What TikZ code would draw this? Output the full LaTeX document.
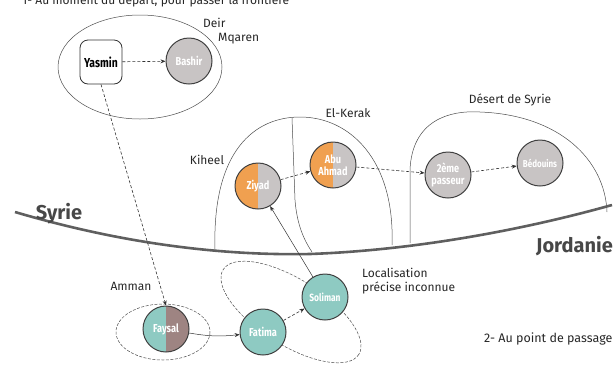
\documentclass[tikz,border=0pt]{standalone}
\usepackage{fontspec}
\setmainfont{Fira Sans}
\setsansfont{Fira Sans}
\newfontfamily\condsans{Fira Sans}[FakeStretch=0.8]
\usetikzlibrary{arrows.meta}
\definecolor{pgray}{RGB}{200,196,196}
\definecolor{porange}{RGB}{240,160,80}
\definecolor{pteal}{RGB}{142,202,194}
\definecolor{pmauve}{RGB}{158,132,130}
\definecolor{border}{RGB}{95,95,95}
\tikzset{
  person/.style={circle, draw=black!75, line width=1pt, fill=pgray, minimum size=46pt, inner sep=0pt,
    font=\condsans\fontsize{11.5}{11.5}\selectfont\bfseries, text=white, align=center},
  halves/.style 2 args={path picture={
    \fill[#1] (path picture bounding box.south west) rectangle (path picture bounding box.north);
    \fill[#2] (path picture bounding box.south) rectangle (path picture bounding box.north east);}},
  region/.style={draw=black!70, line width=0.5pt},
  dregion/.style={draw=black!70, line width=0.5pt, dash pattern=on 3pt off 1.5pt},
  flow/.style={-{Stealth[length=5pt,width=4pt]}, line width=0.6pt, black!80, dash pattern=on 3pt off 2pt},
  sflow/.style={-{Stealth[length=5pt,width=4pt]}, line width=0.5pt, black!80},
  lbl/.style={font=\sffamily\fontsize{12}{13.5}\selectfont, text=black!85, align=left, inner sep=0pt},
  country/.style={font=\sffamily\fontsize{20}{21}\selectfont\bfseries, text=black!72, inner sep=0pt}
}
\begin{document}
\begin{tikzpicture}[x=1pt,y=-1pt]
\useasboundingbox (0,0) rectangle (615,368);
\begin{scope}
\clip (0,0) rectangle (615,368);
\node[lbl, anchor=base west] (title) at (22,4) {1- Au moment du départ, pour passer la frontière};
\node[lbl, anchor=base west, font=\sffamily\fontsize{12.5}{13}\selectfont] (title2) at (484,342) {2- Au point de passage};
\end{scope}

% regions
\draw[region] (140,67) ellipse [x radius=82, y radius=52];
\node[lbl, anchor=west] (deir) at (203,23) {Deir};
\node[lbl, anchor=west] (mqaren) at (218,39) {Mqaren};

\draw[region] (215,250) .. controls (212,150) and (255,117) .. (300,117) .. controls (350,117) and (395,160) .. (392,245);
\draw[region] (292,118) -- (295,200) .. controls (297,225) and (304,240) .. (312,252);
\draw[region] (410,243) -- (410,170) .. controls (412,120) and (450,110) .. (480,112) .. controls (560,115) and (605,160) .. (607,212);
\node[lbl] (kiheel) at (207,160) {Kiheel};
\node[lbl] (kerak) at (348,113) {El-Kerak};
\node[lbl] (desert) at (510,100) {Désert de Syrie};

% border
\draw[line width=2.6pt, border] (15,212) .. controls (110,240) and (210,256) .. (310,254) .. controls (420,250) and (530,228) .. (612,205);
\node[country] (syrie) at (59,214) {Syrie};
\node[country, anchor=east] (jordanie) at (613,246) {Jordanie};

% bottom regions
\draw[dregion] (163,332) ellipse [x radius=47, y radius=28];
\draw[dregion, rotate around={-32:(291,312)}] (291,312) ellipse [x radius=80, y radius=33];
\node[lbl] (amman) at (131,286) {Amman};
\node[lbl, anchor=west] (loc) at (362,281) {Localisation\\précise inconnue};

% people
\node[draw=black!80, line width=0.8pt, rounded corners=8pt, fill=white, minimum width=42pt, minimum height=44pt,
  font=\condsans\fontsize{13}{13}\selectfont\bfseries, inner sep=0pt] (yasmin) at (101,62) {Yasmin};
\node[person] (bashir) at (189,61) {Bashir};
\node[person, halves={porange}{pgray}] (ziyad) at (258,186) {Ziyad};
\node[person, halves={porange}{pgray}] (abu) at (333,165) {Abu\\Ahmad};
\node[person] (passeur) at (448,175) {2ème\\passeur};
\node[person, font=\condsans\fontsize{10}{10}\selectfont\bfseries] (bedouins) at (540,163) {Bédouins};
\node[person, halves={pteal}{pmauve}] (faysal) at (166,329) {Faysal};
\node[person, fill=pteal] (fatima) at (263,332) {Fatima};
\node[person, fill=pteal, font=\condsans\fontsize{10.5}{10.5}\selectfont\bfseries] (soliman) at (325,297) {Soliman};

% connectors
\draw[flow] (yasmin) -- (bashir);
\draw[flow] (yasmin.south) -- (faysal.north);
\draw[flow] (ziyad) -- (abu);
\draw[flow] (abu) -- (passeur);
\draw[flow] (passeur) -- (bedouins);
\draw[sflow] (faysal) to[bend right=8] (fatima);
\draw[flow] (fatima) -- (soliman);
\draw[sflow] (soliman) -- (ziyad);
\end{tikzpicture}
\end{document}
